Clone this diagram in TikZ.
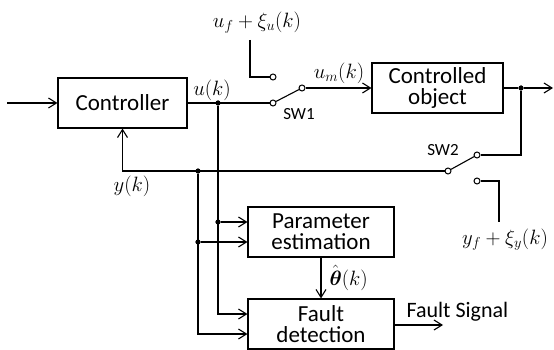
\documentclass[tikz,border=0pt]{standalone}
\usepackage{amsmath}
\usepackage{fontspec}
\setmainfont{Carlito}
\usetikzlibrary{arrows.meta}
\tikzset{
  blockbox/.style={draw, line width=1.1pt, align=center, inner sep=0pt, font=\fontsize{23}{21}\selectfont},
  contact/.style={circle, draw, fill=white, line width=1pt, inner sep=0pt, minimum size=6pt},
  junc/.style={circle, fill=black, inner sep=0pt, minimum size=5pt},
  sig/.style={-{Straight Barb[length=8pt,width=10pt]}},
  lbl/.style={inner sep=0pt, font=\fontsize{22}{22}\selectfont},
  swlbl/.style={inner sep=0pt, font=\fontsize{17}{17}\selectfont}
}
\begin{document}
\begin{tikzpicture}[x=1pt,y=-1pt,line width=1.1pt]
                \useasboundingbox (0,0) rectangle (554,350);
                %%%  Blocks
                \node[blockbox, minimum width=129pt, minimum height=50pt] (ctrl) at (122.5,103) {Controller};
                \node[blockbox, minimum width=131pt, minimum height=50pt] (plant) at (437.5,88) {Controlled\\object};
                \node[blockbox, minimum width=146pt, minimum height=50pt] (est) at (321,232) {Parameter\\estimation};
                \node[blockbox, minimum width=146pt, minimum height=50pt] (det) at (321,324) {Fault\\detection};
                %%% Switch contacts
                \node[contact] (sw1in) at (273,103) {};
                \node[contact] (sw1up) at (273,77) {};
                \node[contact] (sw1out) at (302,88) {};
                \node[contact] (sw2in) at (477,155) {};
                \node[contact] (sw2out) at (448,171) {};
                \node[contact] (sw2dn) at (477,181) {};
                %%% Junctions and free ends
                \node[junc] (ju) at (218,103) {};
                \node[junc] (jo) at (521,88) {};
                \node[junc] (jy) at (198,171) {};
                \node[junc] (jue) at (218,222) {};
                \node[junc] (jye) at (198,242) {};
                \coordinate (in) at (7,103);
                \coordinate (out) at (553,88);
                \coordinate (uftop) at (250,40);
                \coordinate (yfbot) at (499,222);
                \coordinate (fsend) at (443,325);
                %%% Forward path
                \draw[sig] (in) -- (ctrl.west);
                \draw (ctrl.east) -- (sw1in.west);
                \draw (uftop) |- (sw1up.west);
                \draw (sw1in) -- (sw1out);
                \draw[sig] (sw1out.east) -- (plant.west);
                \draw (plant.east) -- (jo);
                \draw[sig] (jo) -- (out);
                %%% Feedback path with SW2
                \draw (jo) |- (sw2in.east);
                \draw (sw2in) -- (sw2out);
                \draw (sw2dn.east) -| (yfbot);
                \draw[sig] (sw2out.west) -| (ctrl.south);
                %%% Signals to estimation and detection
                \draw[sig] (ju) |- ([yshift=10pt]det.west);
                \draw[sig] (jy) |- ([yshift=-10pt]det.west);
                \draw[sig] (jue) -- (jue -| est.west);
                \draw[sig] (jye) -- (jye -| est.west);
                \draw[sig] (est.south) -- (det.north);
                \draw[sig] (det.east |- fsend) -- (fsend);
                %%% Junction dots on top
                \foreach \j in {ju,jo,jy,jue,jye}
                    \fill (\j) circle (2.5pt);
                %%% Labels
                \node[lbl] (uk) at (212,90) {$u(k)$};
                \node[lbl] (uf) at (257,23) {$u_f+\xi_u(k)$};
                \node[lbl] (um) at (339,73) {$u_m(k)$};
                \node[lbl] (yk) at (132,186) {$y(k)$};
                \node[lbl] (yf) at (505,240) {$y_f+\xi_y(k)$};
                \node[lbl, anchor=west] (th) at (329,278) {$\hat{\boldsymbol{\theta}}(k)$};
                \node[lbl, anchor=base west] (fs) at (406,317) {Fault Signal};
                \node[swlbl] (swa) at (299,114) {SW1};
                \node[swlbl] (swb) at (443,150) {SW2};
\end{tikzpicture}
\end{document}
